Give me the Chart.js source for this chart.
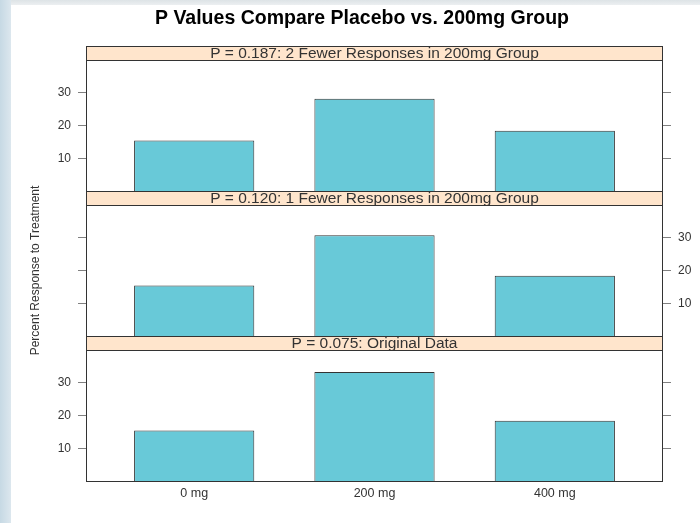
<!DOCTYPE html>
<html>
<head>
<meta charset="utf-8">
<script src="https://cdn.jsdelivr.net/npm/chart.js@4/dist/chart.umd.min.js"></script>
<style>
html, body { margin:0; padding:0; width:700px; height:523px; overflow:hidden; background:#ffffff; }
#bgLeft { position:absolute; left:0; top:0; width:11px; height:523px; background:linear-gradient(to right,#c6d9e4,#dce7ee); }
#bgTop { position:absolute; left:0; top:0; width:700px; height:5px; background:linear-gradient(to bottom,#dde3e6,#eceff1); }
canvas { position:absolute; left:0; top:0; }
</style>
</head>
<body>
<div id="bgTop"></div>
<div id="bgLeft"></div>
<canvas id="c1" width="700" height="523"></canvas>
<canvas id="c2" width="700" height="523"></canvas>
<canvas id="c3" width="700" height="523"></canvas>
<script>
// ---- data ----
const categories = ['0 mg', '200 mg', '400 mg'];
const categoryPositions = [1, 2, 3];
const panelTitles = [
  'P = 0.187: 2 Fewer Responses in 200mg Group',
  'P = 0.120: 1 Fewer Responses in 200mg Group',
  'P = 0.075: Original Data'
];
const twoFewerValues = [15.4, 28.2, 18.4];
const oneFewerValues = [15.4, 30.8, 18.4];
const originalValues = [15.4, 33.3, 18.4];
const yTickValues = [10, 20, 30];
const mainTitle = 'P Values Compare Placebo vs. 200mg Group';
const yAxisTitle = 'Percent Response to Treatment';

// ---- styling ----
Chart.defaults.font.family = "'Liberation Sans', Arial, sans-serif";
const FRAME = '#333333';
const STRIP_FILL = '#ffe5cc';
const BAR_FILL = '#68c9d8';
const TEXT = '#333333';
const STRIP_H = 14;

const stripPlugin = {
  id: 'strip',
  afterDraw(chart, args, opts) {
    const {ctx, chartArea: a} = chart;
    ctx.save();
    ctx.fillStyle = STRIP_FILL;
    ctx.fillRect(a.left, a.top - STRIP_H, a.right - a.left, STRIP_H);
    ctx.strokeStyle = FRAME;
    ctx.lineWidth = 1;
    ctx.strokeRect(a.left + 0.5, a.top - STRIP_H + 0.5, a.right - a.left - 1, STRIP_H);
    ctx.fillStyle = TEXT;
    ctx.font = "15.5px 'Liberation Sans', Arial, sans-serif";
    ctx.textAlign = 'center';
    ctx.textBaseline = 'middle';
    ctx.fillText(opts.text, (a.left + a.right) / 2, a.top - STRIP_H / 2 + 1);
    ctx.strokeRect(a.left + 0.5, a.top + 0.5, a.right - a.left - 1, a.bottom - a.top);
    ctx.restore();
  }
};

function yAxis(position, showLabels, width, title) {
  return {
    type: 'linear',
    position: position,
    min: 0,
    max: 40,
    afterBuildTicks: s => { s.ticks = yTickValues.map(v => ({value: v})); },
    afterFit: s => { s.width = width; },
    ticks: { display: showLabels, color: TEXT, font: {size: 12}, padding: 7 },
    grid: { drawOnChartArea: false, drawTicks: true, tickLength: 8, color: '#808080' },
    border: { display: false },
    title: title ? { display: true, text: title, color: TEXT, font: {size: 12}, padding: {top: 28, bottom: 0} } : { display: false }
  };
}

function makePanel(id, values, stripText, cfg) {
  return new Chart(document.getElementById(id), {
    type: 'bar',
    data: {
      datasets: [{
        data: values.map((v, i) => ({x: categoryPositions[i], y: v})),
        backgroundColor: BAR_FILL,
        borderColor: FRAME,
        borderWidth: 1,
        categoryPercentage: 1,
        barPercentage: 2 / 3,
        yAxisID: 'y'
      }]
    },
    options: {
      responsive: false,
      animation: false,
      devicePixelRatio: 1,
      layout: { padding: cfg.padding },
      scales: {
        x: {
          type: 'linear',
          min: 0.4,
          max: 3.6,
          offset: false,
          display: cfg.showX,
          afterBuildTicks: s => { s.ticks = categoryPositions.map(v => ({value: v})); },
          afterFit: s => { if (cfg.showX) s.height = 42; },
          ticks: {
            autoSkip: false,
            maxRotation: 0,
            color: TEXT,
            font: {size: 12.5},
            padding: 5,
            callback: v => categories[categoryPositions.indexOf(v)]
          },
          grid: { display: false, drawTicks: false },
          border: { display: false }
        },
        y: yAxis('left', cfg.leftLabels, cfg.leftWidth, cfg.yTitle),
        y2: yAxis('right', !cfg.leftLabels, 37, null)
      },
      plugins: {
        legend: { display: false },
        tooltip: { enabled: false },
        title: cfg.title ? {
          display: true,
          text: cfg.title,
          color: '#000000',
          font: {size: 19.5, weight: 'bold'},
          padding: {top: 7, bottom: 29.6}
        } : { display: false },
        strip: { text: stripText }
      }
    },
    plugins: [stripPlugin]
  });
}

makePanel('c1', twoFewerValues, panelTitles[0], {
  padding: {top: 0, left: 24, right: 0, bottom: 332},
  showX: false, leftLabels: true, leftWidth: 62, title: mainTitle
});
makePanel('c2', oneFewerValues, panelTitles[1], {
  padding: {top: 205, left: 0, right: 0, bottom: 187},
  showX: false, leftLabels: false, leftWidth: 86, yTitle: yAxisTitle
});
makePanel('c3', originalValues, panelTitles[2], {
  padding: {top: 350, left: 0, right: 0, bottom: 0},
  showX: true, leftLabels: true, leftWidth: 86
});
</script>
</body>
</html>
